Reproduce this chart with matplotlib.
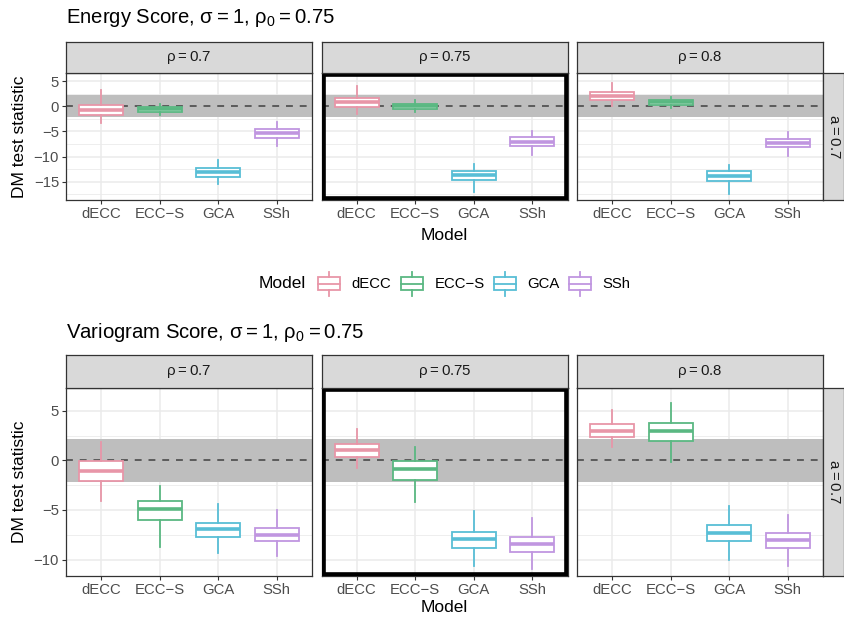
import numpy as np
import matplotlib
matplotlib.use("Agg")
import matplotlib.pyplot as plt
from matplotlib.patches import Rectangle

plt.rcParams['font.family'] = ['Liberation Sans', 'DejaVu Sans']

models = ["dECC", "ECC\u2212S", "GCA", "SSh"]
rho_labels = ["0.7", "0.75", "0.8"]
a_label = "0.7"
band = 2.15  # grey band around 0

# each row: lower whisker, q1, median, q3, upper whisker  (one row per model)
es_rho070 = [[-3.3, -1.8, -0.8, 0.3, 3.2],
             [-1.8, -1.1, -0.6, -0.1, 0.4],
             [-15.5, -14.0, -13.1, -12.3, -10.7],
             [-7.9, -6.3, -5.4, -4.6, -3.2]]
es_rho075 = [[-1.5, -0.1, 0.85, 1.6, 4.0],
             [-1.1, -0.5, 0.0, 0.5, 1.3],
             [-17.0, -14.7, -13.7, -12.8, -11.4],
             [-9.7, -7.9, -7.1, -6.1, -5.0]]
es_rho080 = [[0.1, 1.25, 2.05, 2.9, 4.6],
             [-0.3, 0.26, 0.75, 1.2, 1.85],
             [-17.4, -14.85, -13.8, -12.9, -11.7],
             [-9.8, -8.05, -7.3, -6.4, -5.15]]

vs_rho070 = [[-4.1, -2.1, -1.1, -0.1, 1.85],
             [-8.7, -6.05, -4.9, -4.1, -2.6],
             [-9.3, -7.7, -6.9, -6.3, -4.4],
             [-9.6, -8.1, -7.5, -6.8, -5.05]]
vs_rho075 = [[-0.75, 0.35, 1.05, 1.65, 3.2],
             [-4.15, -1.95, -0.85, -0.1, 1.4],
             [-10.7, -8.85, -7.95, -7.2, -5.1],
             [-11.0, -9.2, -8.45, -7.75, -5.8]]
vs_rho080 = [[1.3, 2.35, 2.95, 3.65, 5.05],
             [-0.15, 2.0, 2.95, 3.8, 5.75],
             [-10.0, -8.1, -7.3, -6.5, -4.6],
             [-10.7, -8.8, -8.05, -7.35, -5.55]]

colors = ['#E896A8', '#5AB882', '#58BED6', '#C096E0']

W, H = 844, 618
fig = plt.figure(figsize=(W / 100, H / 100), dpi=100)


def px_axes(x0, y0, x1, y1):
    return fig.add_axes([x0 / W, 1 - y1 / H, (x1 - x0) / W, (y1 - y0) / H])


def draw_panel(ax, stats, ylim, yticks, minor, show_y, highlight):
    ax.set_xlim(0.4, 4.6)
    ax.set_ylim(*ylim)
    for y in yticks:
        ax.axhline(y, color='#EBEBEB', lw=1.1, zorder=0)
    for y in minor:
        ax.axhline(y, color='#EBEBEB', lw=0.6, zorder=0)
    for x in range(1, 5):
        ax.axvline(x, color='#EBEBEB', lw=1.1, zorder=0)
    ax.axhspan(-band, band, color='#BEBEBE', lw=0, zorder=1)
    ax.axhline(0, color='#404040', ls=(0, (4.5, 4.5)), lw=1.1, zorder=2)
    for i, (s, c) in enumerate(zip(stats, colors)):
        st = dict(whislo=s[0], q1=s[1], med=s[2], q3=s[3], whishi=s[4], fliers=[])
        ax.bxp([st], positions=[i + 1], widths=0.75, patch_artist=True,
               showcaps=False, showfliers=False, manage_ticks=False,
               boxprops=dict(facecolor='white', edgecolor=c, lw=1.3),
               medianprops=dict(color=c, lw=2.6, solid_capstyle='butt'),
               whiskerprops=dict(color=c, lw=1.3), zorder=3)
    ax.set_xticks(range(1, 5))
    ax.set_xticklabels(models)
    ax.set_yticks(yticks)
    ax.tick_params(length=3, width=0.8, color='#333333', labelcolor='#4D4D4D',
                   labelsize=10.7, pad=2)
    if not show_y:
        ax.tick_params(axis='y', left=False, labelleft=False)
    for sp in ax.spines.values():
        sp.set_color('#333333')
        sp.set_linewidth(0.9)
    if highlight:
        ax.add_patch(Rectangle((0, 0), 1, 1, transform=ax.transAxes, fill=False,
                               lw=5.5, ec='black', zorder=5))


def strip(x0, y0, x1, y1, label, rot=0):
    s = px_axes(x0, y0, x1, y1)
    s.set_facecolor('#D9D9D9')
    s.set_xticks([])
    s.set_yticks([])
    for sp in s.spines.values():
        sp.set_color('#333333')
        sp.set_linewidth(0.9)
    s.text(0.5, 0.5, label, transform=s.transAxes, ha='center', va='center',
           fontsize=10.8, color='#1A1A1A', rotation=rot)


panel_x = [(66, 312), (321.5, 567.5), (577, 823)]
blocks = [
    dict(stats=[es_rho070, es_rho075, es_rho080], top=73, bot=200, strip_top=42,
         ylim=(-18.6, 6.6), yticks=[-15, -10, -5, 0, 5], minor=[-17.5, -12.5, -7.5, -2.5, 2.5],
         title=r"Energy Score, $\mathregular{\sigma = 1}$, $\mathregular{\rho_0 = 0.75}$",
         title_y=18, xlab_y=235),
    dict(stats=[vs_rho070, vs_rho075, vs_rho080], top=388, bot=576, strip_top=355,
         ylim=(-11.66, 7.3), yticks=[-10, -5, 0, 5], minor=[-7.5, -2.5, 2.5],
         title=r"Variogram Score, $\mathregular{\sigma = 1}$, $\mathregular{\rho_0 = 0.75}$",
         title_y=333, xlab_y=608),
]

for b in blocks:
    for j, (x0, x1) in enumerate(panel_x):
        ax = px_axes(x0, b['top'], x1, b['bot'])
        draw_panel(ax, b['stats'][j], b['ylim'], b['yticks'], b['minor'],
                   show_y=(j == 0), highlight=(j == 1))
        strip(x0, b['strip_top'], x1, b['top'], r"$\mathregular{\rho = %s}$" % rho_labels[j])
    strip(823, b['top'], 844, b['bot'], r"$\mathregular{a = %s}$" % a_label, rot=-90)

ov = fig.add_axes([0, 0, 1, 1])
ov.set_xlim(0, W)
ov.set_ylim(H, 0)
ov.axis('off')

for b in blocks:
    ov.text(66, b['title_y'], b['title'], ha='left', va='center', fontsize=14.6, color='black')
    ov.text(444.5, b['xlab_y'], 'Model', ha='center', va='center', fontsize=12.5)
    ov.text(20, (b['top'] + b['bot']) / 2, 'DM test statistic', ha='center', va='center',
            fontsize=12.5, rotation=90)

# legend
ov.text(282, 284, 'Model', ha='center', va='center', fontsize=12.5)
key_x = [329, 412, 505, 580]
lab_x = [351, 435, 527, 602]
for m, c, kx, lx in zip(models, colors, key_x, lab_x):
    ov.add_patch(Rectangle((kx - 11, 277), 22, 13, facecolor='white', edgecolor=c, lw=1.3))
    ov.plot([kx - 11, kx + 11], [283.5, 283.5], color=c, lw=1.3)
    ov.plot([kx, kx], [271.5, 277], color=c, lw=1.3)
    ov.plot([kx, kx], [290, 295.5], color=c, lw=1.3)
    ov.text(lx, 284, m, ha='left', va='center', fontsize=10.7)

fig.savefig('out.png', dpi=100)
